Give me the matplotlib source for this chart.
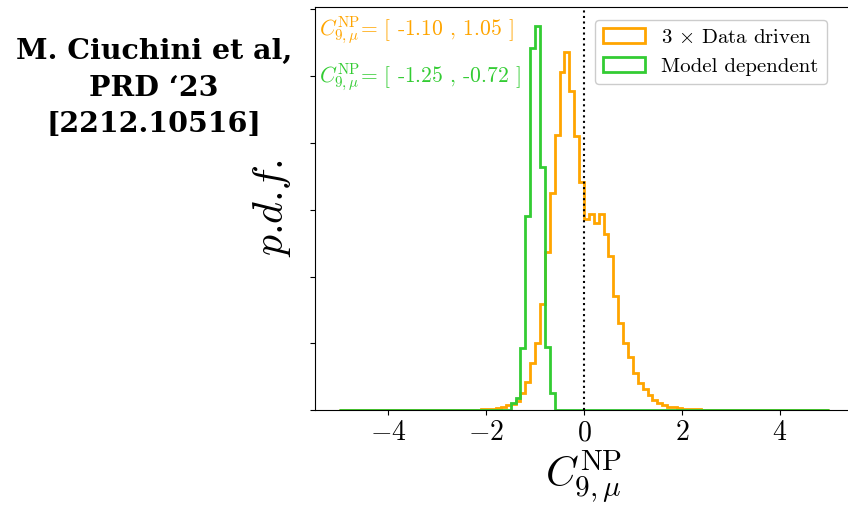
import numpy as np
import matplotlib
matplotlib.use("Agg")
import matplotlib.pyplot as plt

plt.rcParams['mathtext.fontset'] = 'cm'
plt.rcParams['font.family'] = 'serif'
plt.rcParams['font.serif'] = ['cmr10', 'DejaVu Serif']
plt.rcParams['axes.unicode_minus'] = False

## Histogram data (bin width 0.1, range -5 .. 5)
bin_width = 0.1
orange_start = -2.2  # left edge of first non-empty bin
orange_vals = [0.003, 0.005, 0.008, 0.011, 0.015, 0.023, 0.034, 0.045, 0.068, 0.130,
               0.212, 0.351, 0.505, 0.794, 1.181, 1.629, 2.061, 2.530, 2.678, 2.390,
               2.052, 1.708, 1.434, 1.471, 1.402, 1.471, 1.321, 1.151, 0.851, 0.651,
               0.501, 0.396, 0.276, 0.201, 0.158, 0.113, 0.075, 0.050, 0.038, 0.025,
               0.019, 0.015, 0.011, 0.008, 0.005, 0.004, 0.003, 0.002]
green_start = -1.5
green_vals = [0.055, 0.088, 0.463, 1.451, 2.708, 2.873, 1.822, 0.475, 0.130]

labels = [r"3 $\times$ Data driven", "Model dependent"]
intervals = ["[ -1.10 , 1.05 ]", "[ -1.25 , -0.72 ]"]
colors = ["orange", "#33cc33"]
xticks = [-4, -2, 0, 2, 4]

edges = np.round(np.linspace(-5, 5, 101), 6)
centers = 0.5 * (edges[:-1] + edges[1:])

def fill(start, vals):
    w = np.zeros(len(centers))
    i0 = int(round((start + 5) / bin_width))
    w[i0:i0 + len(vals)] = vals
    return w

fig = plt.figure(figsize=(8.48, 5.16), dpi=100)
ax = fig.add_axes([0.3715, 0.2054, 0.6344, 0.7805])

for start, vals, lab, c in zip([orange_start, green_start], [orange_vals, green_vals], labels, colors):
    ax.hist(centers, bins=edges, weights=fill(start, vals), histtype='step', lw=2, color=c, label=lab)

ax.axvline(0, color='k', ls=':', lw=1.5)
ax.set_xlim(-5.5, 5.5)
ax.spines['right'].set_visible(False)
ax.set_yticks(np.arange(0, 3.01, 0.5))
ax.set_yticklabels([])
ax.set_xticks(xticks)
ax.set_xticklabels([rf"$-{abs(t)}$" if t < 0 else rf"${t}$" for t in xticks], fontsize=20)
ax.set_xlabel(r"$C^{\rm NP}_{9,\mu}$", fontsize=30, labelpad=2)
ax.set_ylabel(r"$p$.$d$.$f$.", fontsize=30, labelpad=9)

for k, (txt, c) in enumerate(zip(intervals, colors)):
    ax.text(0.008, 0.944 - k * 0.117, r"$C^{\rm NP}_{9,\mu}$= " + txt, color=c, fontsize=15.5,
            transform=ax.transAxes, va='center', ha='left')

ax.legend(loc='upper left', bbox_to_anchor=(0.52, 0.968), borderaxespad=0, fontsize=15,
          handlelength=2.0, framealpha=1)

fig.text(0.1816, 0.829, "M. Ciuchini et al,\nPRD \u201823\n[2212.10516]", ha='center', va='center',
         family='DejaVu Serif', weight='heavy', fontsize=20.5, linespacing=1.45)

fig.savefig("out.png", dpi=100)
